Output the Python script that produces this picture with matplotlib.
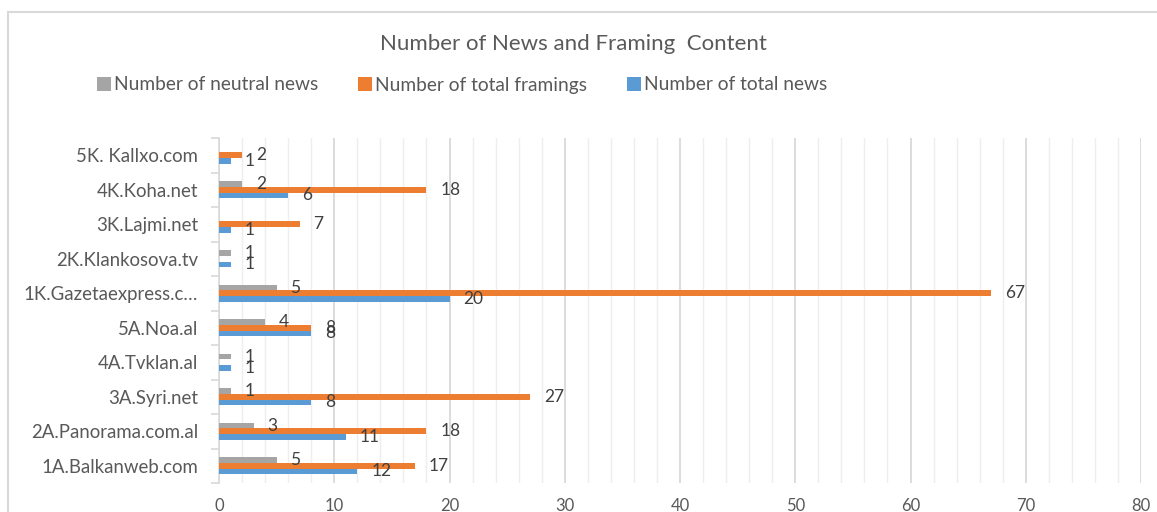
import matplotlib
matplotlib.use("Agg")
import matplotlib.pyplot as plt
import numpy as np
from matplotlib.patches import Rectangle
from matplotlib.ticker import MultipleLocator

categories = ["1A.Balkanweb.com", "2A.Panorama.com.al", "3A.Syri.net", "4A.Tvklan.al",
              "5A.Noa.al", "1K.Gazetaexpress.c…", "2K.Klankosova.tv", "3K.Lajmi.net",
              "4K.Koha.net", "5K. Kallxo.com"]
total_news = [12, 11, 8, 1, 8, 20, 1, 1, 6, 1]
total_framings = [17, 18, 27, 0, 8, 67, 0, 7, 18, 2]
neutral_news = [5, 3, 1, 1, 4, 5, 1, 0, 2, 0]
series_names = ["Number of neutral news", "Number of total framings", "Number of total news"]
title = "Number of News and Framing  Content"

FONT = "Lato"
TXT = "#595959"
plt.rcParams["font.family"] = [FONT, "DejaVu Sans"]

W, H = 1157, 512
fig = plt.figure(figsize=(W / 100, H / 100), dpi=100)
ax = fig.add_axes([219 / W, 1 - 483 / H, (1141 - 219) / W, (483 - 138) / H])

y = np.arange(len(categories))
h = 0.165
c_gray, c_orange, c_blue = "#A5A5A5", "#ED7D31", "#5B9BD5"

b_gray = ax.barh(y + h, neutral_news, height=h, color=c_gray, label=series_names[0], zorder=3)
b_orange = ax.barh(y, total_framings, height=h, color=c_orange, label=series_names[1], zorder=3)
b_blue = ax.barh(y - h, total_news, height=h, color=c_blue, label=series_names[2], zorder=3)

for bars, vals in ((b_gray, neutral_news), (b_orange, total_framings), (b_blue, total_news)):
    for rect, v in zip(bars, vals):
        if v == 0:
            continue
        ax.annotate(str(v), (rect.get_width(), rect.get_y() + rect.get_height() / 2),
                    xytext=(10, 0), textcoords="offset points", ha="left", va="center",
                    fontsize=12.5, color="#404040", zorder=4)

ax.set_xlim(0, 80)
ax.set_ylim(-0.5, len(categories) - 0.5)
ax.xaxis.set_major_locator(MultipleLocator(10))
ax.xaxis.set_minor_locator(MultipleLocator(2))
ax.grid(axis="x", which="major", color="#D9D9D9", lw=1.3, zorder=0)
ax.grid(axis="x", which="minor", color="#EEEEEE", lw=1.0, zorder=0)
ax.set_yticks(y)
ax.set_yticklabels(categories)
ax.set_yticks(np.arange(-0.5, len(categories), 1), minor=True)
ax.tick_params(axis="y", which="major", length=0, pad=15, labelsize=13.4, labelcolor=TXT)
ax.tick_params(axis="y", which="minor", length=6, color="#D9D9D9", width=1.2)
ax.tick_params(axis="x", which="both", length=0, pad=11, labelsize=12, labelcolor=TXT)
for s in ("top", "right", "bottom"):
    ax.spines[s].set_visible(False)
ax.spines["left"].set_color("#D9D9D9")
ax.spines["left"].set_linewidth(1.2)

fig.text(573.5 / W, 1 - 44 / H, title, ha="center", va="center", fontsize=16, color=TXT)

handles = [b_gray, b_orange, b_blue]
leg = fig.legend(handles, series_names, loc="center", bbox_to_anchor=(462 / W, 1 - 85 / H),
                 ncol=3, frameon=False, fontsize=13.8, handlelength=0.73, handleheight=0.73,
                 handletextpad=0.15, columnspacing=2.1, labelcolor=TXT,
                 borderpad=0, borderaxespad=0)

fig.patches.append(Rectangle((8.3 / W, -0.2), 1.2, (512 - 11.7) / H + 0.2, transform=fig.transFigure,
                             fill=False, edgecolor="#D9D9D9", lw=1.5))

fig.savefig("out.png", dpi=100, facecolor="white")
